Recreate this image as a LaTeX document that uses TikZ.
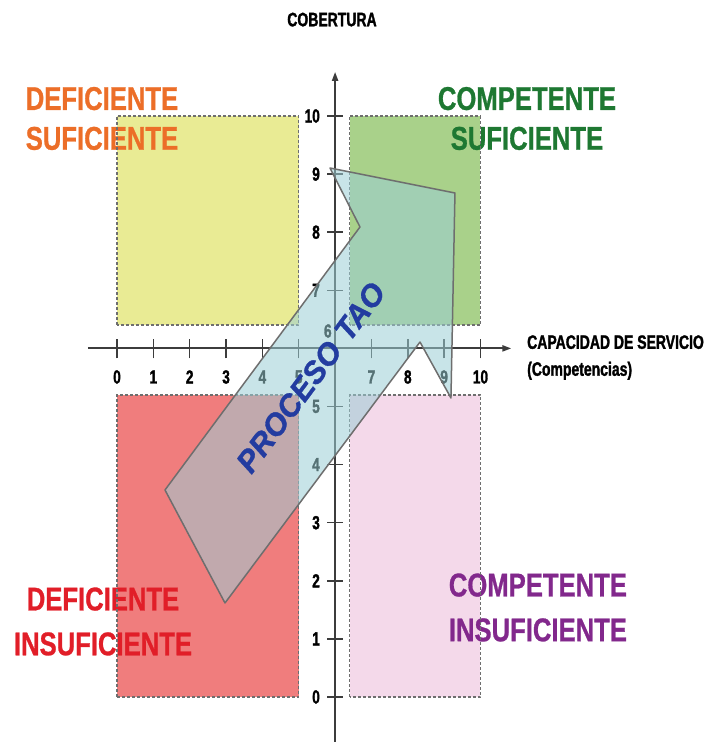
\documentclass[tikz,border=0pt]{standalone}
\usepackage{fontspec}
\setmainfont{Liberation Sans}
\newfontfamily\narrowfont[FakeStretch=0.78,FakeBold=0.8]{Liberation Sans}
\newfontfamily\tickfont[FakeStretch=0.72,FakeBold=1.5]{Liberation Sans}
\newfontfamily\taofont[FakeBold=1]{Liberation Sans}
\usetikzlibrary{arrows.meta}
\definecolor{yellowq}{RGB}{233,235,148}
\definecolor{greenq}{RGB}{169,209,138}
\definecolor{redq}{RGB}{240,125,125}
\definecolor{pinkq}{RGB}{244,217,234}
\definecolor{taoblue}{RGB}{155,206,213}
\definecolor{taotext}{RGB}{35,60,160}
\definecolor{orangetxt}{RGB}{236,110,40}
\definecolor{greentxt}{RGB}{30,120,50}
\definecolor{redtxt}{RGB}{225,30,40}
\definecolor{purpletxt}{RGB}{130,40,140}
\definecolor{axisgray}{RGB}{60,60,60}
\definecolor{edgegray}{RGB}{110,110,110}
\tikzset{
  quadedge/.style={draw=edgegray, line width=1.5bp, dash pattern=on 3bp off 2bp},
  quadlabel/.style={align=center, inner sep=0pt, font=\narrowfont\bfseries\fontsize{33}{40}\selectfont},
  ticklabel/.style={inner sep=0pt, font=\tickfont\bfseries\fontsize{19}{22}\selectfont},
  axislabel/.style={align=left, inner sep=0pt, font=\tickfont\bfseries\fontsize{19.5}{27}\selectfont},
  axisline/.style={draw=axisgray, line width=2bp},
}
\begin{document}
\begin{tikzpicture}[x=36.35bp, y=58.1bp]
\useasboundingbox (-3.219,-0.775) rectangle (16.396,11.997);
\fill[yellowq] (0,6.4) rectangle (5,10);
\fill[greenq] (6.4,6.4) rectangle (10,10);
\fill[redq] (0,0) rectangle (5,5.2);
\fill[pinkq] (6.4,0) rectangle (10,5.2);
\node[quadlabel, text=orangetxt] (defsuf) at (-0.413,9.957) {DEFICIENTE\\SUFICIENTE};
\node[quadlabel, text=greentxt] (compsuf) at (11.279,9.957) {COMPETENTE\\SUFICIENTE};
\node[quadlabel, text=redtxt] (definsuf) at (-0.385,1.299) {DEFICIENTE\\[5bp]INSUFICIENTE};
\node[quadlabel, text=purpletxt] (compinsuf) at (11.58,1.540) {COMPETENTE\\[5bp]INSUFICIENTE};
\draw[quadedge] (0,6.4) rectangle (5,10);
\draw[quadedge] (6.4,6.4) rectangle (10,10);
\draw[quadedge] (0,0) rectangle (5,5.2);
\draw[quadedge] (6.4,0) rectangle (10,5.2);
\draw[axisline, -{Triangle[length=9bp,width=6bp]}] (-0.8,6) -- (10.85,6);
\draw[axisline, -{Triangle[length=9bp,width=6bp]}] (6,-0.775) -- (6,10.76);
\foreach \i in {0,...,10} {
  \draw[axisline, line width=1.5bp] (\i,5.83) -- (\i,6.17);
  \draw[axisline, line width=1.5bp] (5.78,\i) -- (6.22,\i);
}
\foreach \i in {0,1,2,3,4,5,7,8,9,10} {
  \node[ticklabel] (xl\i) at (\i,5.508) {\i};
  \node[ticklabel, anchor=east] (yl\i) at (5.585,\i) {\i};
}
\node[ticklabel] (yl6) at (5.8,6.3) {6};
\node[axislabel] (cobertura) at (5.915,11.66) {COBERTURA};
\node[axislabel, anchor=west] (capacidad) at (11.28,5.843) {CAPACIDAD DE SERVICIO\\(Competencias)};
\filldraw[fill=taoblue, fill opacity=0.55, draw=edgegray, line width=1.5bp, line join=round]
  (1.32,3.563) -- (6.685,8.090) -- (5.860,9.105) -- (9.298,8.675) -- (9.188,5.146)
  -- (8.336,6.110) -- (2.971,1.618) -- cycle;
\node[rotate=53.4, text=taotext, font=\taofont\bfseries\itshape\fontsize{31}{31}\selectfont] (tao) at (5.33,5.50) {PROCESO\hspace{10bp}TAO};
\end{tikzpicture}
\end{document}
